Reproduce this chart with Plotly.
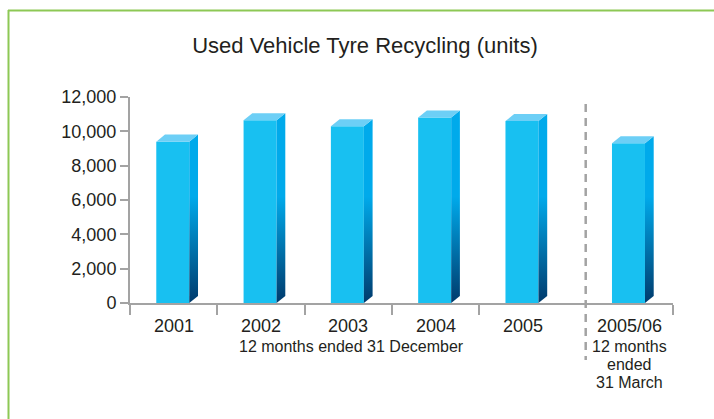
import plotly.graph_objects as go

# Used vehicle tyre recycling, units per 12-month period
periods = ["2001", "2002", "2003", "2004", "2005", "2005/06"]
units = [9400, 10650, 10300, 10800, 10600, 9300]
calendar_note = "12 months ended 31 December"
fiscal_note = ["12 months", "ended", "31 March"]
y_ticks = [0, 2000, 4000, 6000, 8000, 10000, 12000]

W, H = 714, 419
M_L, M_R, M_T, M_B = 130, 41, 97, 116
PLOT_H = H - M_T - M_B

FONT = "Liberation Sans, Arial, Helvetica, sans-serif"
TXT = "#231f20"
AXIS = "#a3a3a3"
FRONT = "#18c0f1"
TOP = "#6dcff6"
SIDE_HI = "#00aaeb"
SIDE_LO = "#003a6c"
BORDER = "#8dc855"

GAP = 0.22          # space before the financial-year column
BAR_W = 0.378       # width of the front face
DX, DY = 0.10, 410  # depth of the 3-D extrusion (x units, y units)
FADE_TOP = 6200     # side face is solid above this value


def px_to_paper_y(p):
    """Convert a pixel row in the page to paper y."""
    return (H - M_B - p) / PLOT_H


def px_to_paper_x(p):
    return (p - M_L) / (W - M_L - M_R)


centers = [i + 0.5 + (GAP if i >= 5 else 0) for i in range(len(periods))]
front_x = [c - 0.01 for c in centers]

fig = go.Figure()

# front faces
fig.add_trace(go.Bar(
    x=front_x, y=units, width=BAR_W, base=0,
    marker=dict(color=FRONT, line=dict(width=0)),
    hoverinfo="skip", showlegend=False,
))

# side and top faces of each bar
for fx, v in zip(front_x, units):
    xl, xr = fx - BAR_W / 2, fx + BAR_W / 2
    top = v + DY
    f = min(FADE_TOP / top, 1.0)
    fig.add_trace(go.Scatter(
        x=[xr, xr + DX, xr + DX, xr, xr],
        y=[0, DY, top, v, 0],
        mode="lines", line=dict(width=0), fill="toself",
        fillgradient=dict(type="vertical", start=0, stop=top,
                          colorscale=[[0, SIDE_LO], [f, SIDE_HI], [1, SIDE_HI]]),
        hoverinfo="skip", showlegend=False,
    ))
    fig.add_trace(go.Scatter(
        x=[xl, xl + DX, xr + DX, xr, xl],
        y=[v, top, top, v, v],
        mode="lines", line=dict(width=0), fill="toself", fillcolor=TOP,
        hoverinfo="skip", showlegend=False,
    ))

annotations = []
for c, lab in zip(centers, periods):
    annotations.append(dict(
        x=c, xref="x", y=px_to_paper_y(326), yref="paper", text=lab,
        showarrow=False, yanchor="middle", xanchor="center",
        font=dict(family=FONT, size=18, color=TXT),
    ))
annotations.append(dict(
    x=2.54, xref="x", y=px_to_paper_y(346), yref="paper", text=calendar_note,
    showarrow=False, yanchor="middle", xanchor="center",
    font=dict(family=FONT, size=16, color=TXT),
))
for k, line in enumerate(fiscal_note):
    annotations.append(dict(
        x=centers[-1], xref="x", y=px_to_paper_y(346 + 18 * k), yref="paper",
        text=line, showarrow=False, yanchor="middle", xanchor="center",
        font=dict(family=FONT, size=16, color=TXT),
    ))

shapes = [
    # separator between calendar years and the financial year
    dict(type="line", xref="x", yref="paper", x0=5 + GAP, x1=5 + GAP,
         y0=px_to_paper_y(104), y1=px_to_paper_y(360),
         line=dict(color=AXIS, width=2.5, dash="8px,6px")),
    # panel frame
    dict(type="line", xref="paper", yref="paper",
         x0=px_to_paper_x(8), x1=px_to_paper_x(W + 10),
         y0=px_to_paper_y(10.5), y1=px_to_paper_y(10.5),
         line=dict(color=BORDER, width=2)),
    dict(type="line", xref="paper", yref="paper",
         x0=px_to_paper_x(8.5), x1=px_to_paper_x(8.5),
         y0=px_to_paper_y(10), y1=px_to_paper_y(H + 10),
         line=dict(color=BORDER, width=2)),
]

fig.update_layout(
    width=W, height=H,
    margin=dict(l=M_L, r=M_R, t=M_T, b=M_B, pad=0),
    paper_bgcolor="white", plot_bgcolor="white",
    font=dict(family=FONT, color=TXT),
    title=dict(text="Used Vehicle Tyre Recycling (units)",
               x=365 / W, xref="container", xanchor="center",
               y=1 - 45 / H, yref="container", yanchor="middle",
               font=dict(family=FONT, size=22, color=TXT)),
    showlegend=False,
    barmode="overlay",
    xaxis=dict(range=[0, 6 + GAP], showgrid=False, zeroline=False,
               showline=True, linecolor=AXIS, linewidth=2,
               tickmode="array", tickvals=[0, 1, 2, 3, 4, 6 + GAP],
               ticks="outside", ticklen=10, tickwidth=2, tickcolor=AXIS,
               showticklabels=False, fixedrange=True),
    yaxis=dict(range=[0, 12000], showgrid=False, zeroline=False,
               showline=True, linecolor=AXIS, linewidth=2,
               tickmode="array", tickvals=y_ticks, tickformat=",",
               ticks="outside", ticklen=8, tickwidth=2, tickcolor=AXIS,
               tickfont=dict(family=FONT, size=18, color=TXT),
               fixedrange=True),
    annotations=annotations,
    shapes=shapes,
)

fig.write_html("out.html")
